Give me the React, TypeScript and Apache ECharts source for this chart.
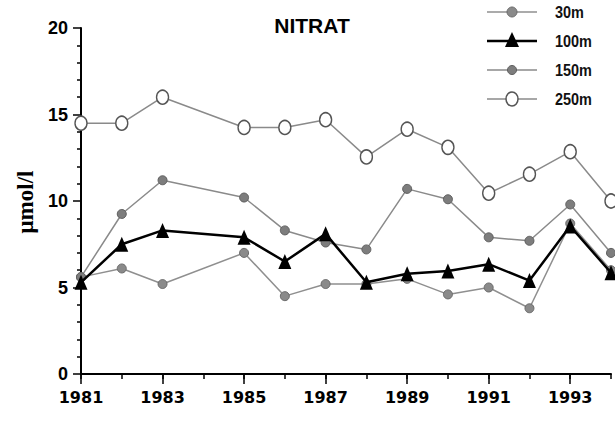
import React, { useEffect, useRef } from "react";
import * as echarts from "echarts";

const years = [1981, 1982, 1983, 1985, 1986, 1987, 1988, 1989, 1990, 1991, 1992, 1993, 1994];
const depth30 = [5.6, 6.1, 5.2, 7.0, 4.5, 5.2, 5.2, 5.5, 4.6, 5.0, 3.8, 8.7, 6.0];
const depth100 = [5.3, 7.5, 8.3, 7.9, 6.5, 8.1, 5.3, 5.8, 5.95, 6.35, 5.4, 8.55, 5.85];
const depth150 = [5.6, 9.25, 11.2, 10.2, 8.3, 7.6, 7.2, 10.7, 10.1, 7.9, 7.7, 9.8, 7.0];
const depth250 = [14.5, 14.5, 16.0, 14.25, 14.25, 14.7, 12.55, 14.15, 13.1, 10.45, 11.55, 12.85, 10.0];
const seriesNames = ["30m", "100m", "150m", "250m"];
const xLabelYears = [1981, 1983, 1985, 1987, 1989, 1991, 1993];
const titleText = "NITRAT";
const yAxisTitle = "μmol/l";

const sans = '"Liberation Sans", Arial, sans-serif';
const wide = '"DejaVu Sans", "Liberation Sans", sans-serif';
const serif = '"Liberation Serif", "DejaVu Serif", serif';

const styles = {
  "30m": { line: "#8f8f8f", lineW: 1.5, fill: "#8a8a8a", stroke: "#6a6a6a" },
  "100m": { line: "#000", lineW: 2.5, fill: "#000", stroke: "#000" },
  "150m": { line: "#8a8a8a", lineW: 1.5, fill: "#7d7d7d", stroke: "#5f5f5f" },
  "250m": { line: "#8a8a8a", lineW: 1.5, fill: "#fff", stroke: "#555" },
} as Record<string, { line: string; lineW: number; fill: string; stroke: string }>;

const pairs = (vals: number[]) => years.map((y, i) => [y, vals[i]]);

function legendGraphics() {
  const rowsY = [12, 41, 70, 99];
  const out: any[] = [];
  seriesNames.forEach((name, i) => {
    const y = rowsY[i];
    const s = styles[name];
    out.push({
      type: "line",
      shape: { x1: 487, y1: y, x2: 537, y2: y },
      style: { stroke: s.line, lineWidth: s.lineW },
    });
    if (name === "100m") {
      out.push({
        type: "polygon",
        shape: { points: [[512, y - 9], [505, y + 6], [519, y + 6]] },
        style: { fill: s.fill },
      });
    } else if (name === "250m") {
      out.push({
        type: "ellipse",
        shape: { cx: 512, cy: y, rx: 6, ry: 7 },
        style: { fill: s.fill, stroke: s.stroke, lineWidth: 1.5 },
      });
    } else {
      out.push({
        type: "circle",
        shape: { cx: 512, cy: y, r: name === "30m" ? 5 : 4.5 },
        style: { fill: s.fill, stroke: s.stroke, lineWidth: 1 },
      });
    }
    out.push({
      type: "text",
      x: 555,
      y: y,
      scaleX: 0.85,
      style: {
        text: name,
        fontFamily: sans,
        fontWeight: "bold",
        fontSize: 17,
        fill: "#111",
        align: "left",
        verticalAlign: "middle",
      },
    });
  });
  return out;
}

export default function App() {
  const ref = useRef<HTMLDivElement>(null);
  useEffect(() => {
    document.body.style.margin = "0";
    const chart = echarts.init(ref.current!, null, { renderer: "svg" });
    chart.setOption({
      animation: false,
      backgroundColor: "#fff",
      grid: { left: 81, right: 4, top: 28, bottom: 49 },
      xAxis: [
        {
          type: "value",
          min: 1981,
          max: 1994,
          interval: 1,
          position: "bottom",
          axisLine: { show: true, onZero: false, lineStyle: { color: "#000", width: 2 } },
          axisTick: { show: true, inside: false, length: 5, lineStyle: { color: "#000", width: 1.5 } },
          splitLine: { show: false },
          axisLabel: {
            margin: 15,
            fontFamily: wide,
            fontWeight: "bold",
            fontSize: 16,
            color: "#000",
            customValues: xLabelYears,
            formatter: (v: number) => (xLabelYears.includes(v) ? String(v) : ""),
          },
        },
        {
          type: "value",
          min: 1981,
          max: 1994,
          interval: 1,
          position: "bottom",
          axisLine: { show: false },
          axisTick: {
            show: true,
            inside: false,
            length: 10,
            customValues: xLabelYears,
            lineStyle: { color: "#000", width: 1.5 },
          },
          axisLabel: { show: false },
          splitLine: { show: false },
        },
      ],
      yAxis: {
        type: "value",
        min: 0,
        max: 20,
        interval: 5,
        axisLine: { show: true, lineStyle: { color: "#000", width: 2 } },
        axisTick: { show: true, inside: false, length: 8, lineStyle: { color: "#000", width: 1.5 } },
        minorTick: { show: true, splitNumber: 5, length: 4, lineStyle: { color: "#000", width: 1.5 } },
        splitLine: { show: false },
        axisLabel: {
          margin: 13,
          fontFamily: sans,
          fontWeight: "bold",
          fontSize: 18,
          color: "#000",
        },
      },
      graphic: [
        {
          type: "text",
          x: 312,
          y: 25,
          style: {
            text: titleText,
            fontFamily: sans,
            fontWeight: "bold",
            fontSize: 21,
            fill: "#000",
            align: "center",
            verticalAlign: "middle",
          },
        },
        {
          type: "text",
          x: 25,
          y: 202,
          rotation: Math.PI / 2,
          style: {
            text: yAxisTitle,
            fontFamily: serif,
            fontWeight: "bold",
            fontSize: 23,
            fill: "#000",
            align: "center",
            verticalAlign: "middle",
          },
        },
        ...legendGraphics(),
      ],
      series: seriesNames.map((name, i) => {
        const s = styles[name];
        const vals = [depth30, depth100, depth150, depth250][i];
        const isTri = name === "100m";
        return {
          name,
          type: "line",
          data: pairs(vals),
          clip: false,
          symbol: isTri ? "triangle" : "circle",
          symbolSize: isTri ? [13, 15] : name === "250m" ? [12, 14] : 9,
          itemStyle: {
            color: s.fill,
            borderColor: s.stroke,
            borderWidth: isTri ? 0 : name === "250m" ? 1.5 : 1,
          },
          lineStyle: { color: s.line, width: s.lineW },
          z: isTri ? 4 : name === "30m" ? 2 : 3,
        };
      }),
    });
    return () => chart.dispose();
  }, []);
  return <div ref={ref} style={{ width: 615, height: 423 }} />;
}
